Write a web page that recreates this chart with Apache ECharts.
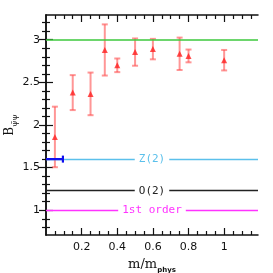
<!DOCTYPE html>
<html><head><meta charset="utf-8">
<script src="https://cdn.jsdelivr.net/npm/echarts@6/dist/echarts.min.js"></script>
<style>html,body{margin:0;padding:0;background:#fff}#c{width:273px;height:273px}</style>
</head><body><div id="c"></div>
<script>
// data
const massRatio = [0.05, 0.15, 0.25, 0.33, 0.4, 0.5, 0.6, 0.75, 0.8, 1.0];
const bValues   = [1.86, 2.38, 2.365, 2.88, 2.70, 2.855, 2.89, 2.835, 2.81, 2.76];
const bErrors   = [0.355, 0.205, 0.25, 0.30, 0.08, 0.16, 0.12, 0.19, 0.075, 0.12];
const bluePoint = [0.0, 1.6, 0.095]; // x, y, x-error
const refLines = [
  {value: 3.0, label: '', color: 'rgba(60,200,60,0.75)'},
  {value: 1.6, label: 'Z(2)', color: '#5bc0eb'},
  {value: 1.23, label: 'O(2)', color: '#222'},
  {value: 1.0, label: '1st order', color: '#ff33ff'}
];
const xMajor = [0.2, 0.4, 0.6, 0.8, 1.0];
const xMinor = [0.05,0.1,0.15,0.25,0.3,0.35,0.45,0.5,0.55,0.65,0.7,0.75,0.85,0.9,0.95,1.05,1.1,1.15];
const yMajor = [1, 1.5, 2, 2.5, 3];
const yMinor = [0.8,0.9,1.1,1.2,1.3,1.4,1.6,1.7,1.8,1.9,2.1,2.2,2.3,2.4,2.6,2.7,2.8,2.9,3.1,3.2];

const X_MIN = 0, X_MAX = 1.19, Y_MIN = 0.71, Y_MAX = 3.29;
const frame = {show: true, lineStyle: {color: '#111', width: 1.5}};
function ax(pos, ticks, len, labels, extra) {
  return Object.assign({
    type: 'value', position: pos,
    min: pos === 'left' || pos === 'right' ? Y_MIN : X_MIN,
    max: pos === 'left' || pos === 'right' ? Y_MAX : X_MAX,
    axisLine: labels ? frame : {show: false},
    axisTick: {show: true, inside: true, length: len, customValues: ticks, lineStyle: {color: '#111', width: 1.2}},
    axisLabel: {show: false},
    splitLine: {show: false}
  }, extra || {});
}
const chart = echarts.init(document.getElementById('c'), null, {renderer: 'canvas'});
const xAxes = [
  ax('bottom', xMajor, 7, true, {axisLabel: {show: true, customValues: xMajor, color: '#111', fontFamily: 'DejaVu Sans', fontSize: 11, margin: 7, formatter: v => String(+v.toFixed(2))},
     name: '{m|m/m}{s|phys}', nameLocation: 'middle', nameGap: 22, nameMoveOverlap: false,
     nameTextStyle: {rich: {m: {fontFamily: 'DejaVu Serif', fontSize: 13, color: '#111', verticalAlign: 'bottom', lineHeight: 14},
                            s: {fontFamily: 'DejaVu Sans', fontSize: 7, fontWeight: 'bold', color: '#111', verticalAlign: 'bottom', lineHeight: 8, padding: [0,0,-3,0]}}}}),
  ax('bottom', xMinor, 4, false),
  ax('top', xMajor, 7, false, {axisLine: frame}),
  ax('top', xMinor, 4, false)
];
const yAxes = [
  ax('left', yMajor, 7, true, {axisLabel: {show: true, customValues: yMajor, color: '#111', fontFamily: 'DejaVu Sans', fontSize: 11, margin: 6, formatter: v => String(+v.toFixed(2))},
     name: '{b|B}{s|ψ̄ψ}', nameLocation: 'middle', nameGap: 30, nameRotate: 90, nameMoveOverlap: false,
     nameTextStyle: {rich: {b: {fontFamily: 'DejaVu Serif', fontSize: 12, color: '#111', verticalAlign: 'bottom', lineHeight: 13},
                            s: {fontFamily: 'DejaVu Serif', fontSize: 8, color: '#111', verticalAlign: 'bottom', lineHeight: 9, padding: [0,0,-3,0]}}}}),
  ax('left', yMinor, 4, false),
  ax('right', yMajor, 7, false, {axisLine: frame}),
  ax('right', yMinor, 4, false)
];

const errData = massRatio.map((x, i) => [x, bValues[i], bErrors[i]]);
const option = {
  animation: false,
  backgroundColor: '#fff',
  grid: {left: 46, right: 15, top: 15, bottom: 38, containLabel: false, outerBoundsMode: 'none'},
  xAxis: xAxes,
  yAxis: yAxes,
  series: [
    {
      type: 'line', data: [], xAxisIndex: 0, yAxisIndex: 0, z: 1,
      markLine: {
        silent: true, symbol: 'none', animation: false,
        data: refLines.map(r => ({
          yAxis: r.value,
          lineStyle: {color: r.color, width: r.value === 3 ? 2 : 1.3, type: 'solid'},
          label: r.label ? {show: true, position: 'middle', formatter: r.label, color: r.color,
                 fontFamily: 'DejaVu Sans Mono', fontSize: 11, backgroundColor: '#fff', padding: [1, 4],
                 distance: 0, verticalAlign: 'middle'}
                 : {show: false}
        }))
      }
    },
    {
      type: 'custom', xAxisIndex: 0, yAxisIndex: 0, z: 3, clip: true,
      data: errData,
      renderItem: (params, api) => {
        const x = api.value(0), y = api.value(1), e = api.value(2);
        const t = api.coord([x, y + e]), b = api.coord([x, y - e]);
        const st = {stroke: 'rgba(255,80,80,0.6)', lineWidth: 2};
        return {type: 'group', children: [
          {type: 'line', shape: {x1: t[0], y1: t[1], x2: b[0], y2: b[1]}, style: st},
          {type: 'line', shape: {x1: t[0]-3, y1: t[1], x2: t[0]+3, y2: t[1]}, style: st},
          {type: 'line', shape: {x1: b[0]-3, y1: b[1], x2: b[0]+3, y2: b[1]}, style: st}
        ]};
      }
    },
    {
      type: 'scatter', xAxisIndex: 0, yAxisIndex: 0, z: 4,
      symbol: 'triangle', symbolSize: [6, 6],
      itemStyle: {color: '#ff2020'},
      data: massRatio.map((x, i) => [x, bValues[i]])
    },
    {
      type: 'custom', xAxisIndex: 0, yAxisIndex: 0, z: 5, clip: true,
      data: [bluePoint],
      renderItem: (params, api) => {
        const x = api.value(0), y = api.value(1), e = api.value(2);
        const l = api.coord([x - e, y]), r = api.coord([x + e, y]);
        const st = {stroke: '#1010ee', lineWidth: 2.2};
        return {type: 'group', children: [
          {type: 'line', shape: {x1: l[0], y1: l[1], x2: r[0], y2: r[1]}, style: st},
          {type: 'line', shape: {x1: r[0], y1: r[1]-3.5, x2: r[0], y2: r[1]+3.5}, style: st}
        ]};
      }
    }
  ]
};
chart.setOption(option);
</script></body></html>
